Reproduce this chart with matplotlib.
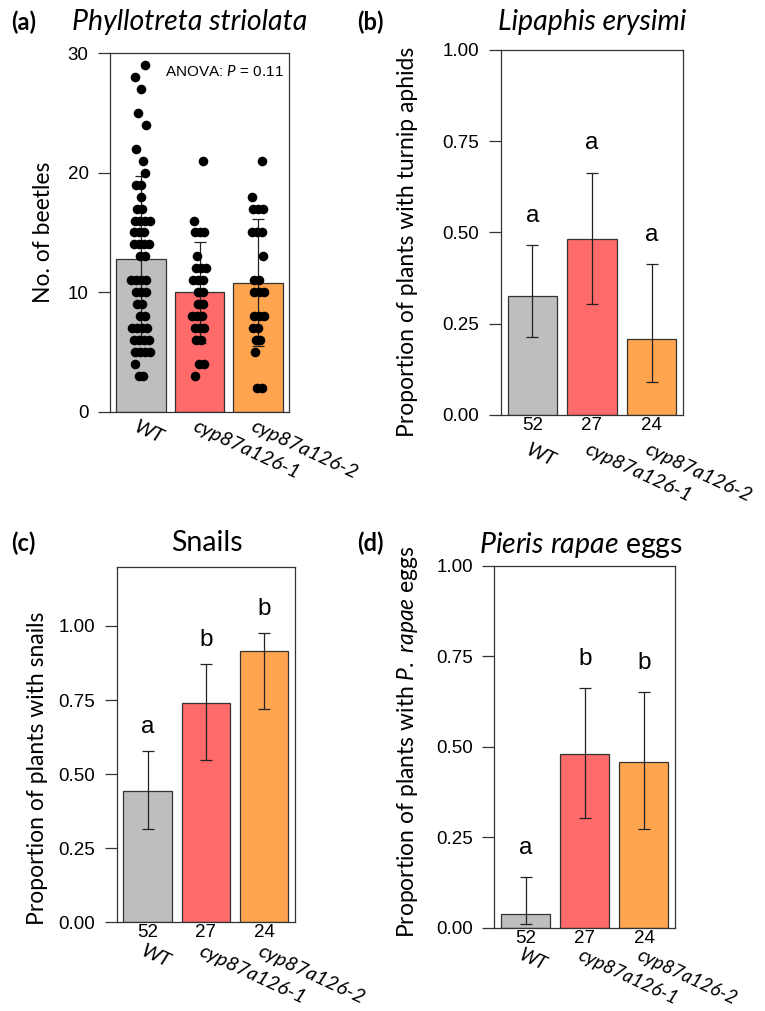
import numpy as np
import matplotlib
matplotlib.use("Agg")
import matplotlib.pyplot as plt

plt.rcParams["font.family"] = ["Lato", "DejaVu Sans"]
plt.rcParams["mathtext.fontset"] = "custom"
plt.rcParams["mathtext.rm"] = "Lato"
plt.rcParams["mathtext.it"] = "Lato:italic"

W, H = 765, 1011
TICKFONT = "Liberation Sans"

# --- data ---
genotypes = ["WT", "cyp87a126-1", "cyp87a126-2"]
n_plants = [52, 27, 24]
colors = ["#BEBEBE", "#FF6A6A", "#FFA54F"]

# (a) beetle counts per plant
beetles_wt = [29, 28, 27, 25, 24, 22, 21, 20, 19, 19, 18, 17, 17, 16, 16, 16, 16,
              15, 15, 15, 14, 14, 14, 14, 13, 13, 11, 11, 11, 11, 10, 10, 10, 9, 9,
              8, 8, 7, 7, 7, 7, 6, 6, 6, 6, 5, 5, 5, 5, 4, 3, 3]
beetles_cyp1 = [21, 16, 15, 15, 15, 13, 12, 12, 12, 11, 11, 11, 10, 10, 9, 9,
                8, 8, 8, 7, 7, 7, 6, 6, 4, 4, 3]
beetles_cyp2 = [21, 18, 17, 17, 17, 15, 15, 15, 13, 11, 11, 10, 10, 10, 8, 8,
                8, 7, 7, 6, 6, 5, 2, 2]
beetle_mean = [12.8, 10.0, 10.8]
beetle_sd = [6.9, 4.2, 5.3]

# (b) turnip aphids
aphid_prop = [0.327, 0.482, 0.209]
aphid_lo = [0.215, 0.304, 0.090]
aphid_hi = [0.465, 0.664, 0.414]
aphid_letters = ["a", "a", "a"]

# (c) snails
snail_prop = [0.442, 0.741, 0.917]
snail_lo = [0.314, 0.548, 0.721]
snail_hi = [0.579, 0.871, 0.977]
snail_letters = ["a", "b", "b"]

# (d) P. rapae eggs
egg_prop = [0.037, 0.481, 0.457]
egg_lo = [0.009, 0.302, 0.274]
egg_hi = [0.140, 0.663, 0.652]
egg_letters = ["a", "b", "b"]

fig = plt.figure(figsize=(W / 100, H / 100), dpi=100)


def add_axes(left, right, top, bottom):
    return fig.add_axes([left / W, 1 - bottom / H, (right - left) / W, (bottom - top) / H])


def style_axes(ax, ylim, yticks, fmt):
    ax.set_xlim(-0.53, 2.53)
    ax.set_ylim(*ylim)
    ax.set_yticks(yticks)
    ax.set_yticklabels([fmt.format(t) for t in yticks], fontfamily=TICKFONT, fontsize=13.5)
    ax.set_xticks([])
    ax.tick_params(axis="y", length=8.4, width=0.9, color="#333333", pad=7)
    for s in ax.spines.values():
        s.set_color("#333333")
        s.set_linewidth(0.9)


def draw_bars(ax, vals, lo, hi):
    x = np.arange(3)
    ax.bar(x, vals, width=0.83, color=colors, edgecolor="#333333", linewidth=0.9, zorder=2)
    yerr = [np.array(vals) - np.array(lo), np.array(hi) - np.array(vals)]
    ax.errorbar(x, vals, yerr=yerr, fmt="none", ecolor="#222222", elinewidth=0.9,
                capsize=4.3, capthick=0.9, zorder=3)


def cat_labels(ax, y_counts_px, y_label_px, show_counts=True, size=14.5):
    # offsets below axes bottom in pixels
    bbox = ax.get_position()
    bottom_px = (1 - bbox.y0) * H
    for i, g in enumerate(genotypes):
        xd = ax.transData.transform((i, 0))[0] / W
        if show_counts:
            fig.text(xd, 1 - (bottom_px + y_counts_px) / H, str(n_plants[i]),
                     ha="center", va="center", fontfamily=TICKFONT, fontsize=13.5)
        fig.text(xd - 2 / W, 1 - (bottom_px + y_label_px) / H, g, ha="left", va="top",
                 rotation=-25, rotation_mode="anchor", style="italic", fontsize=size)


def letters(ax, hi, labs):
    for i, (h, l) in enumerate(zip(hi, labs)):
        ax.text(i, h + 0.08, l, ha="center", va="center", fontfamily=TICKFONT, fontsize=17.5)


# --- (a) ---
axa = add_axes(110, 289, 53, 412)
style_axes(axa, (0, 30), [0, 10, 20, 30], "{:.0f}")
axa.bar(np.arange(3), beetle_mean, width=0.84, color=colors, edgecolor="#333333",
        linewidth=0.9, zorder=2)
axa.errorbar(np.arange(3), beetle_mean, yerr=beetle_sd, fmt="none", ecolor="#222222",
             elinewidth=0.9, capsize=4.3, capthick=0.9, zorder=3)
single_off = [0.06, -0.1, 0.0, -0.05, 0.08, -0.08, 0.03]
for i, vals in enumerate([beetles_wt, beetles_cyp1, beetles_cyp2]):
    xs, ys = [], []
    k = 0
    for v in sorted(set(vals), reverse=True):
        m = vals.count(v)
        if m == 1:
            offs = [single_off[k % len(single_off)]]
        else:
            offs = (np.arange(m) - (m - 1) / 2) * 0.085 + single_off[k % len(single_off)] * 0.4
        k += 1
        xs.extend(i + np.array(offs))
        ys.extend([v] * m)
    axa.scatter(xs, ys, s=48, color="black", zorder=4, linewidths=0)
axa.text(0.97, 0.97, "ANOVA: $\\it{P}$ = 0.11", transform=axa.transAxes, ha="right",
         va="top", fontfamily=TICKFONT, fontsize=11)
cat_labels(axa, 0, 6, show_counts=False)
fig.text(44 / W, 1 - 232 / H, "No. of beetles", rotation=90, ha="center", va="center",
         fontsize=16.5)
fig.text(190 / W, 1 - 22 / H, "Phyllotreta striolata", ha="center", va="center",
         style="italic", fontsize=20.5)
fig.text(11 / W, 1 - 22 / H, "(a)", ha="left", va="center", fontweight="bold", fontsize=17)

# --- (b) ---
axb = add_axes(500.7, 683.3, 50, 415)
style_axes(axb, (0, 1), [0, 0.25, 0.5, 0.75, 1.0], "{:.2f}")
draw_bars(axb, aphid_prop, aphid_lo, aphid_hi)
letters(axb, aphid_hi, aphid_letters)
cat_labels(axb, 11, 26)
fig.text(408 / W, 1 - 242 / H, "Proportion of plants with turnip aphids", rotation=90,
         ha="center", va="center", fontsize=16.5)
fig.text(592 / W, 1 - 22 / H, "Lipaphis erysimi", ha="center", va="center",
         style="italic", fontsize=20.5)
fig.text(357 / W, 1 - 22 / H, "(b)", ha="left", va="center", fontweight="bold", fontsize=17)

# --- (c) ---
axc = add_axes(116.7, 295, 566.7, 922.3)
style_axes(axc, (0, 1.2), [0, 0.25, 0.5, 0.75, 1.0], "{:.2f}")
draw_bars(axc, snail_prop, snail_lo, snail_hi)
letters(axc, snail_hi, snail_letters)
cat_labels(axc, 10, 20)
fig.text(38 / W, 1 - 768 / H, "Proportion of plants with snails", rotation=90,
         ha="center", va="center", fontsize=16.5)
fig.text(207 / W, 1 - 543 / H, "Snails", ha="center", va="center", fontsize=20.5)
fig.text(11 / W, 1 - 543 / H, "(c)", ha="left", va="center", fontweight="bold", fontsize=17)

# --- (d) ---
axd = add_axes(494.3, 675.3, 566, 927.7)
style_axes(axd, (0, 1), [0, 0.25, 0.5, 0.75, 1.0], "{:.2f}")
draw_bars(axd, egg_prop, egg_lo, egg_hi)
letters(axd, egg_hi, egg_letters)
cat_labels(axd, 11, 19, size=13.5)
fig.text(408 / W, 1 - 742 / H, "Proportion of plants with $\\mathit{P.}$ $\\mathit{rapae}$ eggs",
         rotation=90, ha="center", va="center", fontsize=16.5)
fig.text(581 / W, 1 - 545 / H, "$\\mathit{Pieris}$ $\\mathit{rapae}$ eggs", ha="center",
         va="center", fontsize=20.5)
fig.text(357 / W, 1 - 543 / H, "(d)", ha="left", va="center", fontweight="bold", fontsize=17)

fig.savefig("out.png", dpi=100)
